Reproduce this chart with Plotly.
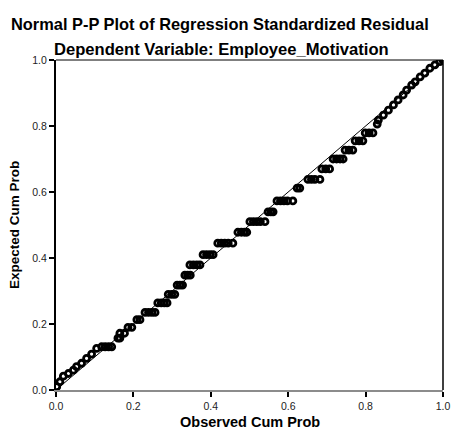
import plotly.graph_objects as go

# Observed cumulative probability (x) and expected cumulative probability (y)
observed_cum_prob = [
    0.002, 0.010, 0.019, 0.032, 0.045, 0.053, 0.066, 0.079, 0.092, 0.105,
    0.118, 0.127, 0.136, 0.144,
    0.160, 0.165,
    0.165, 0.177,
    0.186, 0.196,
    0.209, 0.217,
    0.230, 0.239, 0.248, 0.256,
    0.263, 0.272, 0.280, 0.287,
    0.290, 0.299, 0.307,
    0.313, 0.320, 0.327,
    0.333, 0.340, 0.347,
    0.346, 0.355, 0.364, 0.372,
    0.380, 0.389, 0.398, 0.406,
    0.418, 0.427, 0.436, 0.445, 0.457,
    0.470, 0.479, 0.487, 0.493,
    0.501, 0.510, 0.519, 0.528, 0.540,
    0.548, 0.555, 0.561,
    0.571, 0.580, 0.589, 0.598, 0.612,
    0.623, 0.630,
    0.651, 0.660, 0.669, 0.682,
    0.687, 0.697, 0.707,
    0.716, 0.725, 0.734, 0.742,
    0.747, 0.757, 0.767,
    0.773, 0.783, 0.793,
    0.799, 0.809, 0.819,
    0.830,
    0.833, 0.846, 0.859, 0.872, 0.884, 0.897, 0.906, 0.919, 0.928, 0.941,
    0.953, 0.966, 0.979, 0.992, 1.000,
]
expected_cum_prob = [
    0.010, 0.025, 0.042, 0.050, 0.060, 0.071, 0.081, 0.096, 0.109, 0.126,
    0.131, 0.131, 0.131, 0.131,
    0.157, 0.157,
    0.172, 0.172,
    0.190, 0.190,
    0.213, 0.213,
    0.235, 0.235, 0.235, 0.235,
    0.264, 0.264, 0.264, 0.264,
    0.290, 0.290, 0.290,
    0.318, 0.318, 0.318,
    0.348, 0.348, 0.348,
    0.379, 0.379, 0.379, 0.379,
    0.410, 0.410, 0.410, 0.410,
    0.445, 0.445, 0.445, 0.445, 0.445,
    0.478, 0.478, 0.478, 0.478,
    0.510, 0.510, 0.510, 0.510, 0.510,
    0.540, 0.540, 0.540,
    0.573, 0.573, 0.573, 0.573, 0.573,
    0.612, 0.612,
    0.638, 0.638, 0.638, 0.638,
    0.670, 0.670, 0.670,
    0.700, 0.700, 0.700, 0.700,
    0.727, 0.727, 0.727,
    0.755, 0.755, 0.755,
    0.779, 0.779, 0.779,
    0.806,
    0.818, 0.833, 0.848, 0.864, 0.879, 0.894, 0.909, 0.924, 0.934, 0.949,
    0.960, 0.975, 0.985, 0.995, 1.000,
]
reference_line = [0.0, 1.0]
tick_values = [0.0, 0.2, 0.4, 0.6, 0.8, 1.0]
tick_labels = ["0.0", "0.2", "0.4", "0.6", "0.8", "1.0"]

FONT = "Liberation Sans, Arial, sans-serif"

fig = go.Figure()
fig.add_trace(go.Scatter(
    x=reference_line, y=reference_line, mode="lines",
    line=dict(color="black", width=1), hoverinfo="skip", showlegend=False,
))
fig.add_trace(go.Scatter(
    x=observed_cum_prob, y=expected_cum_prob, mode="markers",
    marker=dict(symbol="circle-open", size=6, color="black",
                line=dict(color="black", width=2.8)),
    showlegend=False,
))

fig.update_layout(
    width=452, height=429,
    margin=dict(l=56, r=9, t=60, b=39),
    paper_bgcolor="white", plot_bgcolor="white",
    font=dict(family=FONT, color="black"),
    xaxis=dict(
        range=[0, 1], tickvals=tick_values, ticktext=tick_labels,
        showgrid=False, zeroline=False, automargin=False,
        showline=True, linecolor="#8c8c8c", linewidth=2,
        ticks="outside", ticklen=5, tickwidth=1.5, tickcolor="black",
        tickfont=dict(size=10.5, color="#222222"),
    ),
    yaxis=dict(
        range=[0, 1], tickvals=tick_values, ticktext=tick_labels,
        showgrid=False, zeroline=False, automargin=False,
        showline=True, linecolor="black", linewidth=2,
        ticks="outside", ticklen=5, tickwidth=1.5, tickcolor="black",
        tickfont=dict(size=10.5, color="#222222"),
    ),
    shapes=[
        dict(type="line", xref="paper", yref="paper", x0=0, x1=1, y0=1, y1=1,
             line=dict(color="black", width=1)),
        dict(type="line", xref="paper", yref="paper", x0=1, x1=1, y0=0, y1=1,
             line=dict(color="black", width=1.5)),
    ],
    annotations=[
        dict(text="<b>Normal P-P Plot of Regression Standardized Residual</b>",
             xref="paper", yref="paper", x=0.424, y=1.0, yshift=36,
             xanchor="center", yanchor="middle", showarrow=False,
             font=dict(size=16.4, family=FONT)),
        dict(text="<b>Dependent Variable: Employee_Motivation</b>",
             xref="paper", yref="paper", x=0.428, y=1.0, yshift=11,
             xanchor="center", yanchor="middle", showarrow=False,
             font=dict(size=16.6, family=FONT)),
        dict(text="<b>Observed Cum Prob</b>",
             xref="paper", yref="paper", x=0.502, y=0.0, yshift=-32,
             xanchor="center", yanchor="middle", showarrow=False,
             font=dict(size=14.5, family=FONT)),
        dict(text="<b>Expected Cum Prob</b>",
             xref="paper", yref="paper", x=0.0, xshift=-42, y=0.5,
             xanchor="center", yanchor="middle", showarrow=False, textangle=-90,
             font=dict(size=13.5, family=FONT)),
    ],
)

# remove the default 8px page margin so the figure sits at the window's corner
fig.write_html("out.html",
               config={"displayModeBar": False},
               post_script="document.body.style.margin='0';"
                           "document.body.style.overflow='hidden';")
